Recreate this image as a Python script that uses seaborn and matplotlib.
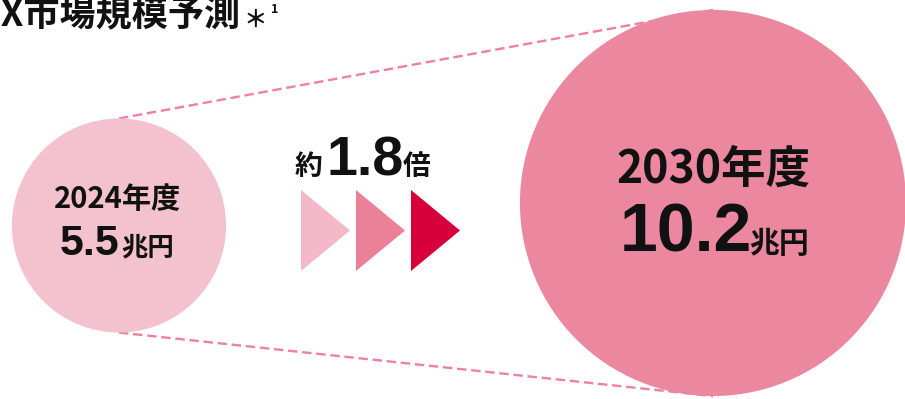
import matplotlib
matplotlib.use("Agg")
import matplotlib.pyplot as plt
import seaborn as sns
from matplotlib.patches import Circle, Polygon

# ---- data ----
years = ["2024年度", "2030年度"]
values = [5.5, 10.2]
unit = "兆円"
ratio_label = "1.8"
title = "DX市場規模予測"

sns.set_theme(style="white")
plt.rcParams['font.family'] = ['Noto Sans CJK JP', 'DejaVu Sans']
NUM_FONT = ['Liberation Sans', 'DejaVu Sans']

W, H = 905, 399
fig = plt.figure(figsize=(W / 100, H / 100), dpi=100)
ax = fig.add_axes([0, 0, 1, 1])
ax.set_xlim(0, W)
ax.set_ylim(H, 0)
ax.set_aspect('equal')
ax.axis('off')

# layout
centers = [(119, 225.5), (713, 203)]
def radius(v):
    return 6.4 + 18.3 * v
circle_colors = ["#f4c1cf", "#ec87a0"]
radii = [radius(v) for v in values]

# dashed connector lines (tops and bottoms)
(cx0, cy0), (cx1, cy1) = centers
r0, r1 = radii
line_kw = dict(color="#f07fa5", lw=1.7, dashes=(4, 2), zorder=1)
ax.plot([cx0, cx1], [cy0 - r0, cy1 - r1], **line_kw)
ax.plot([cx0, cx1], [cy0 + r0, cy1 + r1], **line_kw)

for (cx, cy), r, c in zip(centers, radii, circle_colors):
    ax.add_patch(Circle((cx, cy), r, facecolor=c, edgecolor='none', zorder=2))

# chevron triangles
tri_colors = ["#f4b8c8", "#eb8099", "#d8003a"]
tri_x0 = [301, 356, 411]
for x0, c in zip(tri_x0, tri_colors):
    ax.add_patch(Polygon([(x0, 190), (x0 + 49, 230.5), (x0, 271)], closed=True,
                         facecolor=c, edgecolor='none', zorder=3))

TXT = '#111111'
# ratio text
ax.text(295, 175, "約", fontsize=20, fontweight='bold', ha='left', va='baseline', color=TXT, zorder=4)
ax.text(365.5, 175, ratio_label, fontsize=40, fontweight='bold', family=NUM_FONT,
        ha='center', va='baseline', color=TXT, zorder=4)
ax.text(403, 175, "倍", fontsize=20, fontweight='bold', ha='left', va='baseline', color=TXT, zorder=4)

# small circle text
ax.text(118, 208, years[0], fontsize=21, fontweight='bold', ha='center', va='baseline', color=TXT, zorder=4)
ax.text(90, 255, f"{values[0]}", fontsize=31, fontweight='bold', family=NUM_FONT,
        ha='center', va='baseline', color=TXT, zorder=4)
ax.text(121, 255, unit, fontsize=19, fontweight='bold', ha='left', va='baseline', color=TXT, zorder=4)

# large circle text
ax.text(714, 183, years[1], fontsize=32, fontweight='bold', ha='center', va='baseline', color=TXT, zorder=4)
ax.text(686, 252, f"{values[1]}", fontsize=49, fontweight='bold', family=NUM_FONT,
        ha='center', va='baseline', color=TXT, zorder=4)
ax.text(749, 253, unit, fontsize=21.5, fontweight='bold', ha='left', va='baseline', color=TXT, zorder=4)

# title (left part cropped by the frame, as in the reference)
ax.text(241, 25, title, fontsize=26, fontweight='bold', ha='right', va='baseline', color=TXT, zorder=4)
ax.text(255.5, 19.5, "＊", fontsize=17, fontweight='bold', ha='center', va='center', color=TXT, zorder=4)
ax.text(274.5, 9.5, "1", fontsize=9, fontweight='bold', ha='center', va='center', color=TXT, zorder=4)

fig.savefig("out.png", dpi=100)
